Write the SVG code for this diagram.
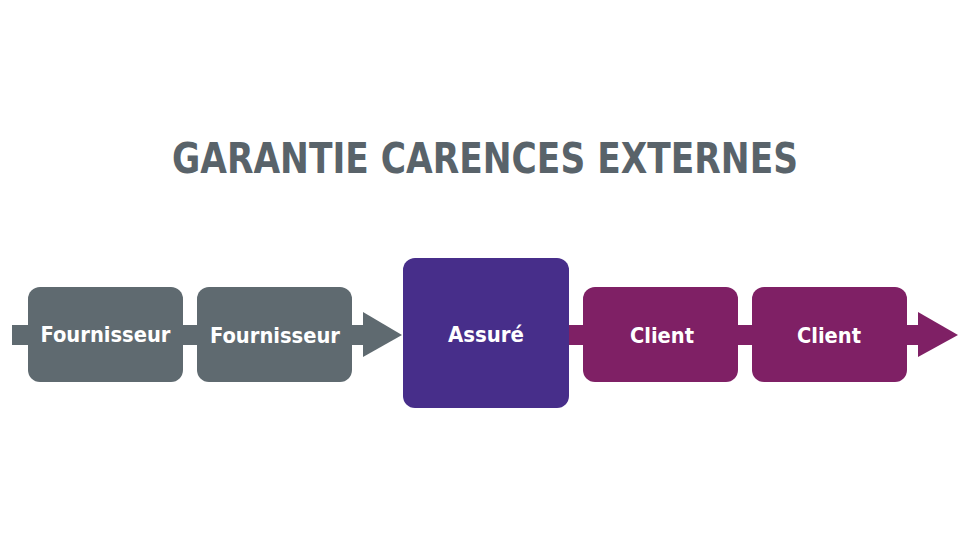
<svg xmlns="http://www.w3.org/2000/svg" width="970" height="555" viewBox="0 0 970 555">
<style>
.t{font-family:"DejaVu Sans Condensed","DejaVu Sans",sans-serif;font-weight:bold;fill:#fff;font-size:21px;text-anchor:middle}
.g{fill:#5f6a70}.p{fill:#472e8a}.m{fill:#7f2065}
</style>
<rect width="970" height="555" fill="#fff"/>
<text x="485" y="173" font-family="DejaVu Sans Condensed,DejaVu Sans,sans-serif" font-weight="bold" font-size="42" fill="#59636a" text-anchor="middle" textLength="626" lengthAdjust="spacingAndGlyphs">GARANTIE CARENCES EXTERNES</text>
<g id="connectors">
<rect class="g" x="12" y="325" width="352" height="20"/>
<polygon class="g" points="363,312 402,335 363,357"/>
<rect class="m" x="569" y="325" width="350" height="20"/>
<polygon class="m" points="918,312 958,335 918,357"/>
</g>
<g id="n1"><rect class="g" x="28" y="287" width="155" height="95" rx="12"/><text class="t" x="105.5" y="342" textLength="130" lengthAdjust="spacingAndGlyphs">Fournisseur</text></g>
<g id="n2"><rect class="g" x="197" y="287" width="155" height="95" rx="12"/><text class="t" x="275" y="343" textLength="130" lengthAdjust="spacingAndGlyphs">Fournisseur</text></g>
<g id="n3"><rect class="p" x="403" y="258" width="166" height="150" rx="12"/><text class="t" x="486" y="342" textLength="76" lengthAdjust="spacingAndGlyphs">Assuré</text></g>
<g id="n4"><rect class="m" x="583" y="287" width="155" height="95" rx="12"/><text class="t" x="662" y="343" textLength="64" lengthAdjust="spacingAndGlyphs">Client</text></g>
<g id="n5"><rect class="m" x="752" y="287" width="155" height="95" rx="12"/><text class="t" x="829" y="343" textLength="64" lengthAdjust="spacingAndGlyphs">Client</text></g>
</svg>
